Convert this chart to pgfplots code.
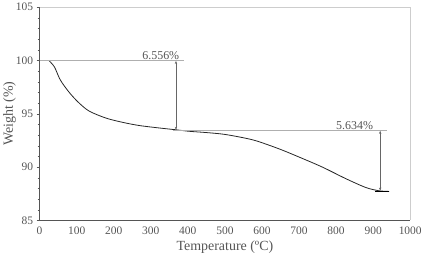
\documentclass[border=0pt]{standalone}
\usepackage{fontspec}
\setmainfont{Liberation Serif}
\usepackage{pgfplots}
\pgfplotsset{compat=1.18}
\usetikzlibrary{arrows.meta}
\definecolor{tickgray}{RGB}{85,85,85}
\definecolor{framegray}{RGB}{205,205,205}
\definecolor{stepgray}{RGB}{175,175,175}
\begin{document}
\begin{tikzpicture}
\begin{axis}[
  scale only axis,
  width=372pt, height=214pt,
  xmin=0, xmax=1000, ymin=85, ymax=105,
  xtick={0,100,...,1000}, ytick={85,90,95,100,105},
  minor y tick num=4,
  axis x line*=bottom, axis y line*=left,
  axis line style={tickgray, line width=0.6pt},
  every tick/.style={tickgray, line width=0.5pt},
  tick align=outside,
  major tick length=3pt, minor tick length=2pt,
  xtick style={draw=none},
  ticklabel style={font=\fontsize{11.5}{13}\selectfont, text=tickgray},
  /pgf/number format/assume math mode=true,
  /pgf/number format/1000 sep={},
  xlabel={Temperature (ºC)}, ylabel={Weight (\%)},
  label style={font=\fontsize{14}{16}\selectfont, text=tickgray},
  xlabel style={yshift=1pt},
  ylabel style={yshift=-7pt},
  clip=false,
]
% light frame on the top and right
\draw[framegray, line width=0.6pt] (rel axis cs:0,1) -- (rel axis cs:1,1) -- (rel axis cs:1,0);
% TGA curve
\addplot[black!85, line width=0.8pt, smooth, tension=0.5] coordinates {
(25,100.0) (40,99.4) (54,98.3) (67,97.6) (85,96.8) (107,96.0)
(134,95.25) (179,94.6) (224,94.2) (269,93.9) (323,93.67) (371,93.49)
(403,93.36) (450,93.24) (495,93.09) (540,92.82) (584,92.47) (647,91.7)
(701,90.93) (763,90.0) (826,88.92) (880,88.09) (916,87.78) (943,87.72)
};
% step markers
\addplot[stepgray, line width=0.8pt] coordinates {(0,100) (390,100)};
\addplot[stepgray, line width=0.8pt] coordinates {(360,93.444) (938,93.444)};
\addplot[black!60, line width=0.35pt, {Stealth[length=3pt,width=2.4pt]}-{Stealth[length=3pt,width=2.4pt]}]
  coordinates {(368,99.95) (368,93.5)};
\addplot[black!60, line width=0.35pt, {Stealth[length=3pt,width=2.4pt]}-{Stealth[length=3pt,width=2.4pt]}]
  coordinates {(919,93.4) (919,87.8)};
\addplot[black, line width=0.8pt] coordinates {(905,87.74) (943,87.74)};
\node[font=\fontsize{12}{14}\selectfont, text=tickgray, anchor=south, inner sep=1pt] at (axis cs:327,100) {6.556\%};
\node[font=\fontsize{12}{14}\selectfont, text=tickgray, anchor=south, inner sep=1pt] at (axis cs:850,93.444) {5.634\%};
\end{axis}
\end{tikzpicture}
\end{document}
